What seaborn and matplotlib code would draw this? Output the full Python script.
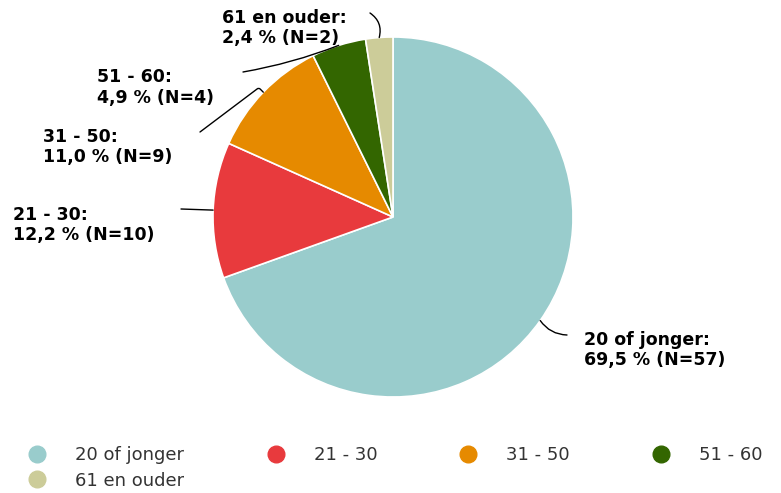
import numpy as np
import matplotlib
matplotlib.use("Agg")
import matplotlib.pyplot as plt
import seaborn as sns
from matplotlib.lines import Line2D

# data
categories = ["20 of jonger", "21 - 30", "31 - 50", "51 - 60", "61 en ouder"]
counts = [57, 10, 9, 4, 2]
percents = ["69,5", "12,2", "11,0", "4,9", "2,4"]
colors = ["#99CCCC", "#E83A3D", "#E68A00", "#336600", "#CCCC99"]

sns.set_style("white")
plt.rcParams["font.family"] = ["DejaVu Sans"]

W, H = 781, 493
fig = plt.figure(figsize=(W / 100, H / 100), dpi=100)
ax = fig.add_axes([213 / W, 96 / H, 360 / W, 360 / H])

wedges, _ = ax.pie(counts, colors=colors, startangle=90, counterclock=False,
                   radius=1, wedgeprops=dict(edgecolor="white", linewidth=1.2))
ax.set_xlim(-1, 1)
ax.set_ylim(-1, 1)
ax.set_aspect("equal")
ax.axis("off")

def px(x, y):
    return (x, H - y)

# label text (left x, block centre y) and connector end points, in image pixels
label_pos = [(584, 350), (13, 225), (43, 147), (97, 87.5), (222, 28)]
line_end = [(567, 335), (181, 209), (200, 132), (243, 72), (370, 13)]
conn = ["arc3,rad=-0.25", "arc3,rad=0", "angle,angleA=37,angleB=-45,rad=2",
        "arc3,rad=0.05", "arc3,rad=-0.35"]

for w, cat, n, p, lp, le, cs in zip(wedges, categories, counts, percents,
                                    label_pos, line_end, conn):
    mid = np.deg2rad((w.theta1 + w.theta2) / 2)
    edge = (np.cos(mid), np.sin(mid))
    ax.annotate("", xy=edge, xycoords="data", xytext=px(*le),
                textcoords="figure pixels",
                arrowprops=dict(arrowstyle="-", color="black", lw=1,
                                connectionstyle=cs, shrinkA=0, shrinkB=0))
    fig.text(lp[0] / W, 1 - lp[1] / H, f"{cat}:\n{p} % (N={n})",
             ha="left", va="center", fontsize=12.5, fontweight="bold",
             color="black", linespacing=1.2)

# legend fills column by column, so reorder to read row by row
order = [0, 4, 1, 2, 3]
handles = [Line2D([0], [0], marker="o", linestyle="", markersize=12,
                  markerfacecolor=colors[i], markeredgecolor=colors[i])
           for i in order]
leg = fig.legend(handles, [categories[i] for i in order], ncol=4,
                 loc="upper left", bbox_to_anchor=(23 / W, 1 - 446 / H),
                 frameon=False, fontsize=13, handlelength=1.6,
                 handletextpad=1.3, columnspacing=4.25, labelspacing=0.42,
                 borderaxespad=0, borderpad=0)
for t in leg.get_texts():
    t.set_color("#333333")

fig.savefig("out.png", dpi=100)
